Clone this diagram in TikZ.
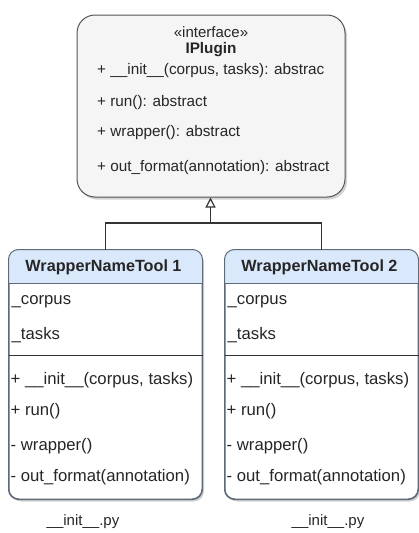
\documentclass[tikz,border=0pt]{standalone}
\usepackage{fontspec}
\setmainfont{Liberation Sans}
\usetikzlibrary{shadows,arrows.meta}
\definecolor{hdrfill}{HTML}{DAE8FC}
\definecolor{boxline}{HTML}{5F6B78}
\definecolor{ifill}{HTML}{F5F5F5}
\definecolor{iline}{HTML}{555555}
\begin{document}
\begin{tikzpicture}[x=1pt,y=-1pt,
  txt/.style={font=\fontsize{15.3}{17}\selectfont, inner sep=0pt, anchor=west, text=black!85},
  btxt/.style={txt, font=\fontsize{16.7}{19}\selectfont},
  ctxt/.style={font=\fontsize{15}{17}\selectfont, inner sep=0pt, text=black!85},
  ibold/.style={font=\fontsize{15.3}{17}\selectfont\bfseries, inner sep=0pt, text=black!85},
  hbold/.style={font=\fontsize{16.2}{19}\selectfont\bfseries, inner sep=0pt, text=black!85},
  shad/.style={drop shadow={opacity=0.35, shadow xshift=2pt, shadow yshift=-2.5pt}},
  conn/.style={draw=black!80, line width=1.3pt},
]
\useasboundingbox (0,0) rectangle (419,533);
% interface box
\node[draw=iline, fill=ifill, line width=1pt, rounded corners=18pt, shad,
  minimum width=268pt, minimum height=182pt, inner sep=0pt] (ip) at (211,106) {};
\node[ctxt] (st) at (211,32) {«interface»};
\node[ibold] (ipn) at (211,50) {IPlugin};
\node[txt] (i1) at (97,71) {+ \_\_init\_\_(corpus, tasks): abstrac};
\node[txt] (i2) at (97,103) {+ run(): abstract};
\node[txt] (i3) at (97,133) {+ wrapper(): abstract};
\node[txt] (i4) at (97,168) {+ out\_format(annotation): abstract};
% classes
\foreach \n/\cx/\lbl in {w1/105.5/WrapperNameTool 1, w2/321.5/WrapperNameTool 2}{
  \node[draw=boxline, fill=white, line width=1pt, rounded corners=10pt, shad,
    minimum width=193pt, minimum height=249pt, inner sep=0pt] (\n) at (\cx,374.5) {};
  \begin{scope}
    \clip[rounded corners=10pt] (\n.north west) rectangle (\n.south east);
    \fill[hdrfill] (\n.north west) rectangle ([yshift=-34pt]\n.north east);
  \end{scope}
  \draw[boxline, line width=1pt, rounded corners=10pt] (\n.north west) rectangle (\n.south east);
  \draw[boxline, line width=1pt] ([yshift=-34pt]\n.north west) -- ([yshift=-34pt]\n.north east);
  \draw[black!80, line width=1.2pt] ([yshift=-106pt]\n.north west) -- ([yshift=-106pt]\n.north east);
  \node[hbold] (\n h) at (\cx-2,267) {\lbl};
  \node[btxt] (\n a) at ([xshift=3pt]\n.west |- 0,302) {\_corpus};
  \node[btxt] (\n b) at ([xshift=3pt]\n.west |- 0,335) {\_tasks};
  \node[btxt] (\n c) at ([xshift=2pt]\n.west |- 0,380) {+ \_\_init\_\_(corpus, tasks)};
  \node[btxt] (\n d) at ([xshift=2pt]\n.west |- 0,411) {+ run()};
  \node[btxt] (\n e) at ([xshift=2pt]\n.west |- 0,446) {- wrapper()};
  \node[btxt] (\n f) at ([xshift=2pt]\n.west |- 0,477) {- out\_format(annotation)};
}
\node[ctxt] (f1) at (83,522) {\_\_init\_\_.py};
\node[ctxt] (f2) at (328,522) {\_\_init\_\_.py};
% inheritance
\coordinate (j) at (210.5,223);
\draw[conn] (w1.north) |- (j) -| (w2.north);
\draw[conn, -{Triangle[open, width=10pt, length=10pt, line width=1.2pt]}] (j) -- (ip.south -| j);
\end{tikzpicture}
\end{document}
